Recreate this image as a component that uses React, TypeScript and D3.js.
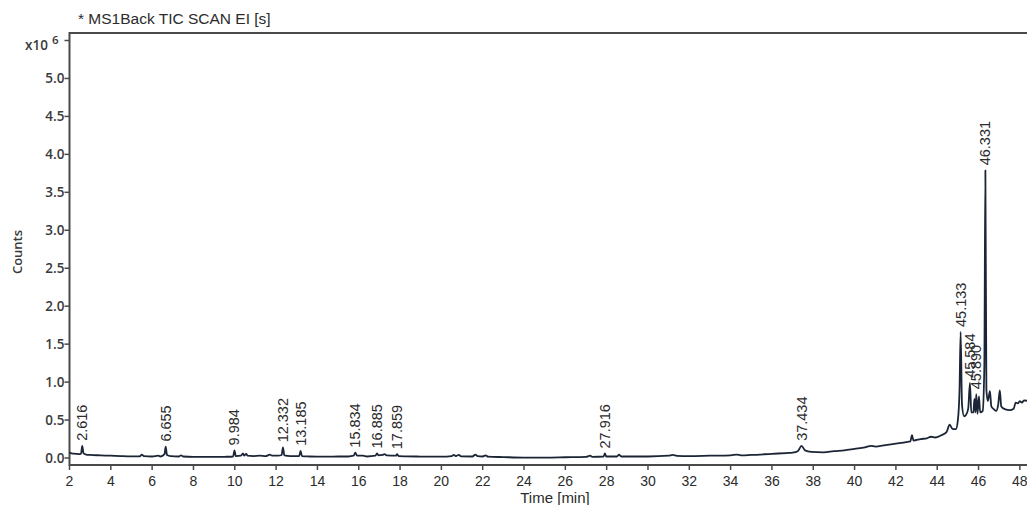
import * as d3 from "d3";
import { useRef, useEffect } from "react";

// retention time (min) and TIC counts (x10^6)
const times = [
  2.0, 2.1, 2.3, 2.5, 2.56, 2.616, 2.68, 2.8, 3.0, 3.5, 4.0, 4.5, 5.0, 5.4, 5.5, 5.6,
  6.0, 6.3, 6.4, 6.6, 6.655, 6.72, 6.9, 7.3, 7.4, 7.5, 8.0, 8.5, 9.0, 9.5, 9.92, 9.984,
  10.05, 10.3, 10.4, 10.45, 10.55, 10.62, 10.9, 11.2, 11.5, 11.7, 11.8, 12.1, 12.27, 12.332,
  12.4, 12.7, 13.12, 13.185, 13.25, 13.6, 14.0, 14.5, 15.0, 15.5, 15.75, 15.834, 15.92, 16.2,
  16.4, 16.8, 16.885, 16.95, 17.15, 17.25, 17.35, 17.8, 17.859, 17.93, 18.3, 18.8, 19.5, 20.0,
  20.5, 20.6, 20.7, 20.85, 20.95, 21.5, 21.65, 21.75, 22.0, 22.15, 22.25, 23.0, 24.0, 25.0,
  26.0, 27.0, 27.2, 27.3, 27.85, 27.916, 27.98, 28.5, 28.6, 28.7, 29.5, 30.0, 31.0, 31.2,
  31.4, 32.0, 33.0, 34.0, 34.3, 34.5, 35.0, 36.0, 36.7, 37.0, 37.25, 37.434, 37.6, 37.9,
  38.5, 39.0, 39.5, 40.0, 40.5, 40.8, 41.0, 41.5, 42.0, 42.5, 42.7, 42.78, 42.85, 43.2,
  43.5, 43.7, 43.9, 44.2, 44.45, 44.6, 44.75, 44.9, 45.0, 45.08, 45.133, 45.2, 45.3, 45.4,
  45.5, 45.584, 45.65, 45.75, 45.8, 45.85, 45.89, 45.95, 46.02, 46.08, 46.2, 46.28, 46.331, 46.38,
  46.45, 46.55, 46.62, 46.75, 46.85, 46.95, 47.03, 47.1, 47.3, 47.5, 47.7, 47.8, 47.9, 48.0,
  48.1, 48.2, 48.4,
];
const counts = [
  0.07, 0.06, 0.055, 0.05, 0.06, 0.16, 0.06, 0.045, 0.04, 0.035, 0.03, 0.025, 0.022, 0.022, 0.045, 0.024,
  0.02, 0.03, 0.02, 0.05, 0.15, 0.04, 0.025, 0.02, 0.035, 0.02, 0.015, 0.015, 0.014, 0.016, 0.02, 0.10,
  0.025, 0.03, 0.06, 0.03, 0.055, 0.03, 0.025, 0.03, 0.025, 0.045, 0.03, 0.03, 0.04, 0.14,
  0.035, 0.025, 0.025, 0.095, 0.025, 0.02, 0.018, 0.018, 0.02, 0.02, 0.03, 0.07, 0.03, 0.03,
  0.02, 0.03, 0.06, 0.035, 0.04, 0.05, 0.035, 0.03, 0.05, 0.025, 0.022, 0.02, 0.018, 0.018,
  0.025, 0.04, 0.025, 0.04, 0.022, 0.02, 0.045, 0.025, 0.02, 0.035, 0.018, 0.012, 0.006, 0.006,
  0.01, 0.015, 0.03, 0.015, 0.02, 0.06, 0.02, 0.02, 0.045, 0.02, 0.02, 0.02, 0.03, 0.04,
  0.028, 0.025, 0.03, 0.035, 0.045, 0.035, 0.04, 0.055, 0.065, 0.07, 0.09, 0.16, 0.1, 0.08,
  0.075, 0.09, 0.1, 0.12, 0.14, 0.16, 0.15, 0.17, 0.19, 0.21, 0.22, 0.30, 0.23, 0.25,
  0.26, 0.28, 0.27, 0.3, 0.34, 0.44, 0.38, 0.38, 0.5, 0.9, 1.66, 0.7, 0.55, 0.57,
  0.65, 0.99, 0.6, 0.6, 0.78, 0.6, 0.84, 0.58, 0.81, 0.6, 0.62, 1.2, 3.79, 0.9,
  0.75, 0.88, 0.68, 0.64, 0.62, 0.7, 0.89, 0.68, 0.64, 0.63, 0.65, 0.73, 0.72, 0.75,
  0.73, 0.76, 0.75,
];

const peakLabels = ["2.616", "6.655", "9.984", "12.332", "13.185", "15.834", "16.885", "17.859",
  "27.916", "37.434", "45.133", "45.584", "45.890", "46.331"];

const xTicks = d3.range(2, 49, 2);
const yTicks = [0, 0.5, 1.0, 1.5, 2.0, 2.5, 3.0, 3.5, 4.0, 4.5, 5.0];

export default function App() {
  const ref = useRef(null);
  const width = 1027, height = 505;
  const left = 69.5, top = 33, bottom = 465;

  useEffect(() => {
    const svg = d3.select(ref.current);
    svg.selectAll("*").remove();

    const x = d3.scaleLinear().domain([2, 48.4]).range([left, left + 46.4 * 20.66]);
    const y = d3.scaleLinear().domain([0, 5.5]).range([458, 40.5]);
    const data = times.map((t, i) => ({ t, v: counts[i] }));

    const axisColor = "#4a4a4a";
    const textColor = "#2b2b2b";
    const sideFont = "'Open Sans', sans-serif";

    // title
    svg.append("text")
      .attr("x", 78).attr("y", 24)
      .style("font-family", "'Liberation Sans', Arial, sans-serif")
      .style("font-size", "15.5px")
      .attr("fill", textColor)
      .text("* MS1Back TIC SCAN EI [s]");

    // frame
    svg.append("path")
      .attr("d", `M${width + 5},${top}H${left}V${bottom}H${width + 5}`)
      .attr("fill", "none")
      .attr("stroke", axisColor)
      .attr("stroke-width", 2);

    // y ticks
    const yg = svg.append("g");
    yg.selectAll("line").data([...yTicks, 5.5]).join("line")
      .attr("x1", left - 5).attr("x2", left)
      .attr("y1", d => y(d)).attr("y2", d => y(d))
      .attr("stroke", axisColor).attr("stroke-width", 1.5);
    yg.selectAll("text").data(yTicks).join("text")
      .attr("x", left - 5).attr("y", d => y(d))
      .attr("dy", "0.36em")
      .attr("text-anchor", "end")
      .style("font-family", sideFont)
      .style("font-size", "13.5px")
      .style("font-weight", 600)
      .attr("fill", "#3a3a3a")
      .text(d => d3.format(".1f")(d));

    // exponent label
    const ex = svg.append("text")
      .attr("y", 50)
      .style("font-family", sideFont)
      .style("font-size", "13.5px")
      .style("font-weight", 600)
      .attr("fill", "#3a3a3a");
    ex.append("tspan").attr("x", 25).text("x10");
    ex.append("tspan").attr("x", 52).attr("y", 44).style("font-size", "11.5px").text("6");

    // y label
    svg.append("text")
      .attr("transform", `translate(22,252) rotate(-90)`)
      .attr("text-anchor", "middle")
      .style("font-family", sideFont)
      .style("font-size", "13px")
      .style("font-weight", 600)
      .attr("fill", "#3a3a3a")
      .text("Counts");

    // x ticks
    const xg = svg.append("g");
    xg.selectAll("line").data(xTicks).join("line")
      .attr("x1", d => x(d)).attr("x2", d => x(d))
      .attr("y1", bottom).attr("y2", bottom + 5)
      .attr("stroke", axisColor).attr("stroke-width", 1.5);
    xg.selectAll("text").data(xTicks).join("text")
      .attr("x", d => x(d)).attr("y", 486)
      .attr("text-anchor", "middle")
      .style("font-family", "'Liberation Sans', Arial, sans-serif")
      .style("font-size", "14px")
      .attr("fill", textColor)
      .text(d => d);

    svg.append("text")
      .attr("x", 555).attr("y", 503)
      .attr("text-anchor", "middle")
      .style("font-family", "'Liberation Sans', Arial, sans-serif")
      .style("font-size", "15px")
      .attr("fill", textColor)
      .text("Time [min]");

    // trace
    const line = d3.line<{ t: number; v: number }>()
      .x(d => x(d.t))
      .y(d => y(d.v))
      .curve(d3.curveMonotoneX);

    svg.append("path")
      .datum(data)
      .attr("fill", "none")
      .attr("stroke", "#1b2536")
      .attr("stroke-width", 1.8)
      .attr("stroke-linejoin", "round")
      .attr("d", line);

    // peak labels
    svg.append("g").selectAll("text").data(peakLabels).join("text")
      .attr("transform", d => {
        const t = +d;
        const i = times.indexOf(t);
        return `translate(${x(t) + 5},${y(counts[i]) - 5}) rotate(-90)`;
      })
      .style("font-family", "'Liberation Sans', Arial, sans-serif")
      .style("font-size", "14.5px")
      .attr("fill", textColor)
      .text(d => d);
  }, []);

  return (
    <svg ref={ref} width={width} height={height}
      style={{ position: "absolute", left: 0, top: 0, background: "#fff" }} />
  );
}
